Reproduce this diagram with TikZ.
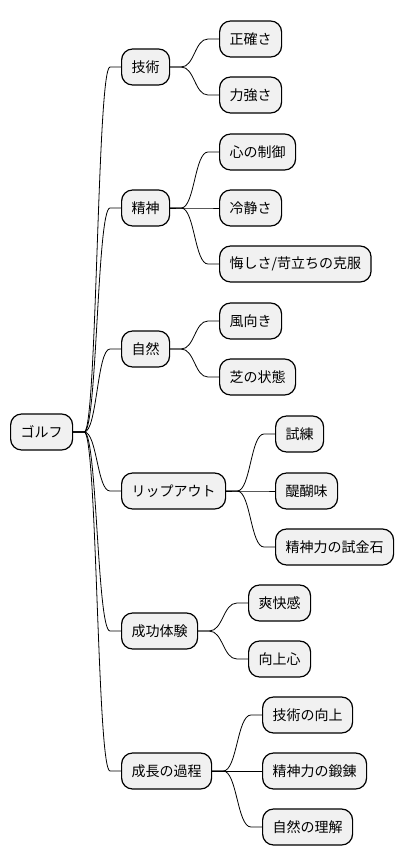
\documentclass[tikz,border=0pt]{standalone}
\usepackage{fontspec}
\newfontfamily\jp{Noto Sans CJK JP}
\usetikzlibrary{calc}
\definecolor{boxfill}{HTML}{F1F1F1}
\tikzset{
  mm/.style={draw=black, line width=1.2pt, fill=boxfill, rounded corners=11pt,
    minimum height=36pt, inner xsep=10pt, inner ysep=0pt, anchor=west,
    font=\jp\fontsize{14}{16}\selectfont, text=black},
  link/.style={draw=black, line width=0.8pt}
}
\newcommand\mmconn[2]{%
  \draw[link] let \p1=(#1.east), \p2=(#2.west) in
    (\p1) -- (\x1+11pt,\y1) .. controls ({(\x1+\x2)/2},\y1) and ({(\x1+\x2)/2},\y2) .. (\x2-11pt,\y2) -- (\p2);}
\begin{document}
\begin{tikzpicture}[x=1pt,y=-1pt]
\useasboundingbox (0,0) rectangle (404,865);
\node[mm] (root) at (10,432) {ゴルフ};
% level 1
\node[mm] (gi) at (121,67) {技術};
\node[mm] (se) at (121,208) {精神};
\node[mm] (sz) at (121,349) {自然};
\node[mm] (ri) at (121,491) {リップアウト};
\node[mm] (sk) at (121,631) {成功体験};
\node[mm] (sc) at (121,771) {成長の過程};
% level 2
\node[mm] (gi1) at (219,39) {正確さ};
\node[mm] (gi2) at (219,95) {力強さ};
\node[mm] (se1) at (219,152) {心の制御};
\node[mm] (se2) at (219,208) {冷静さ};
\node[mm] (se3) at (219,264) {悔しさ/苛立ちの克服};
\node[mm] (sz1) at (219,321) {風向き};
\node[mm] (sz2) at (219,377) {芝の状態};
\node[mm] (ri1) at (275,434) {試練};
\node[mm] (ri2) at (275,491) {醍醐味};
\node[mm] (ri3) at (275,547) {精神力の試金石};
\node[mm] (sk1) at (248,603) {爽快感};
\node[mm] (sk2) at (248,659) {向上心};
\node[mm] (sc1) at (262,715) {技術の向上};
\node[mm] (sc2) at (262,771) {精神力の鍛錬};
\node[mm] (sc3) at (262,827) {自然の理解};
% connectors
\mmconn{root}{gi}\mmconn{root}{se}\mmconn{root}{sz}
\mmconn{root}{ri}\mmconn{root}{sk}\mmconn{root}{sc}
\mmconn{gi}{gi1}\mmconn{gi}{gi2}
\mmconn{se}{se1}\mmconn{se}{se2}\mmconn{se}{se3}
\mmconn{sz}{sz1}\mmconn{sz}{sz2}
\mmconn{ri}{ri1}\mmconn{ri}{ri2}\mmconn{ri}{ri3}
\mmconn{sk}{sk1}\mmconn{sk}{sk2}
\mmconn{sc}{sc1}\mmconn{sc}{sc2}\mmconn{sc}{sc3}
\end{tikzpicture}
\end{document}
